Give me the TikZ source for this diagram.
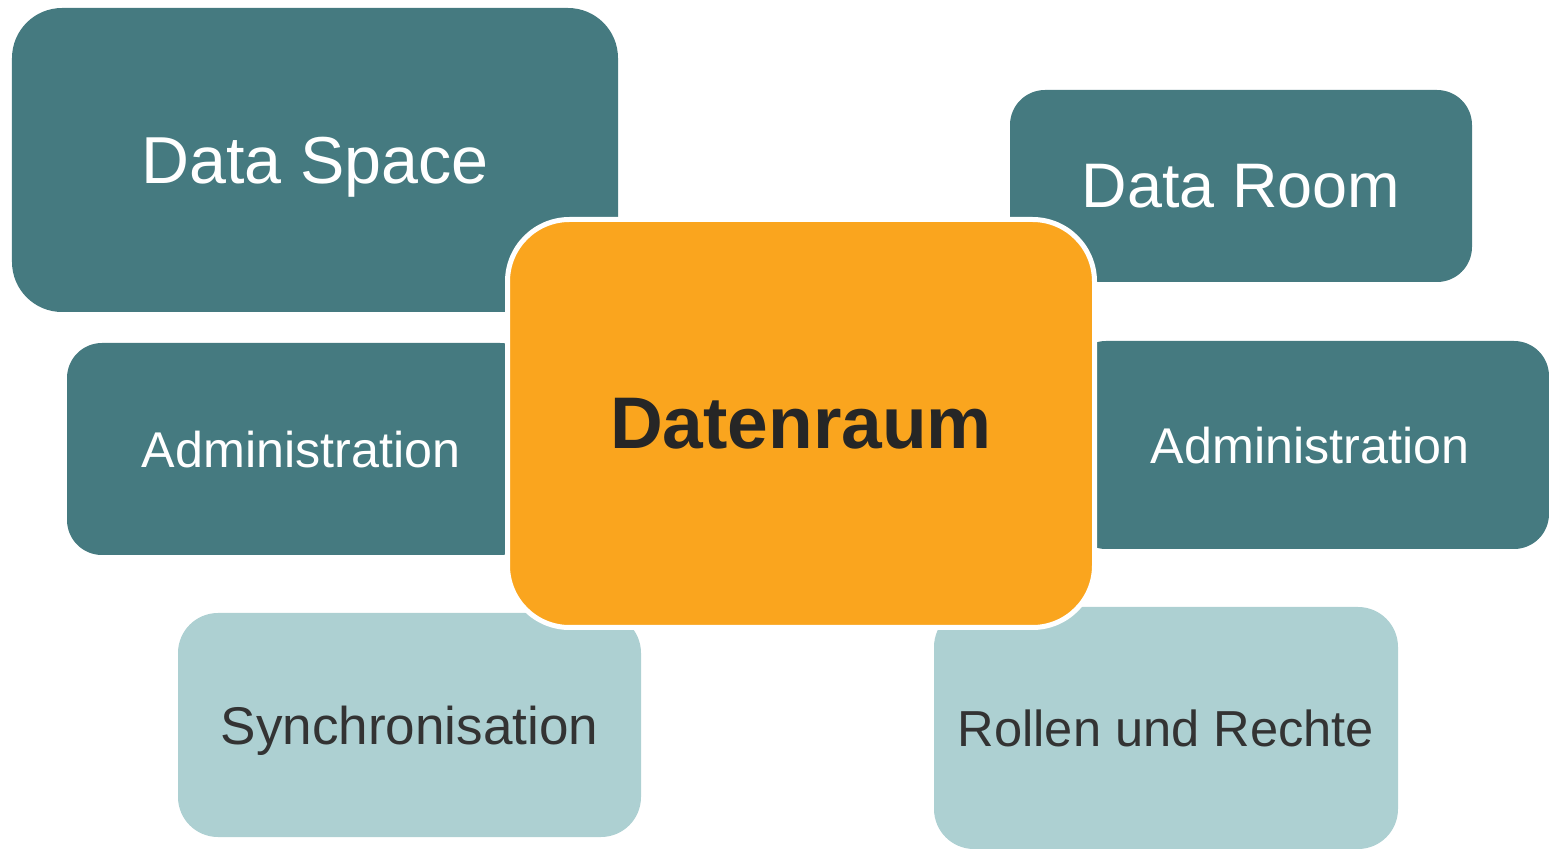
\documentclass[tikz,border=0pt]{standalone}
\usepackage{fontspec}
\setmainfont{Liberation Sans}

\definecolor{tealbox}{RGB}{69,122,128}
\definecolor{lightbox}{RGB}{173,208,210}
\definecolor{corefill}{RGB}{250,165,30}
\definecolor{darktext}{RGB}{51,51,51}
\definecolor{coretext}{RGB}{38,38,38}

\tikzset{
    topicbox/.style={rectangle, inner sep=0pt, outer sep=0pt, fill=tealbox,
        text=white, align=center, text depth=0pt},
    detailbox/.style={rectangle, inner sep=0pt, outer sep=0pt, fill=lightbox,
        text=darktext, align=center, text depth=0pt},
    corebox/.style={rectangle, inner sep=0pt, outer sep=0pt, fill=corefill,
        draw=white, line width=0.05cm, text=coretext, align=center,
        rounded corners=0.62cm, minimum width=5.87cm, minimum height=4.08cm}
}

\begin{document}
\begin{tikzpicture}
    % Page size of the picture, everything outside is cut off
    \clip (0, 0) rectangle (15.49, -8.49);

    % Dark boxes behind the centre box
    \node[topicbox, rounded corners=0.5cm, minimum width=6.06cm, minimum height=3.04cm]
        (space) at (3.15, -1.60) {\fontsize{18.9}{22}\selectfont Data Space};
    \node[topicbox, rounded corners=0.35cm, minimum width=4.62cm, minimum height=1.92cm]
        (room) at (12.41, -1.86) {\fontsize{17.9}{21}\selectfont Data Room};
    \node[topicbox, rounded corners=0.35cm, minimum width=4.68cm, minimum height=2.12cm]
        (adminL) at (3.01, -4.49) {\fontsize{14.3}{17}\selectfont Administration};
    \node[topicbox, rounded corners=0.35cm, minimum width=4.78cm, minimum height=2.08cm]
        (adminR) at (13.10, -4.45) {\fontsize{14.3}{17}\selectfont Administration};

    % Light boxes at the bottom
    \node[detailbox, rounded corners=0.4cm, minimum width=4.63cm, minimum height=2.24cm]
        (sync) at (4.095, -7.25) {\fontsize{15.1}{18}\selectfont Synchronisation};
    \node[detailbox, rounded corners=0.4cm, minimum width=4.64cm, minimum height=2.42cm]
        (roles) at (11.66, -7.28) {\fontsize{14.4}{17}\selectfont Rollen und Rechte};

    % The centre box goes on top of all others
    \node[corebox] (core) at (8.01, -4.235) {\fontsize{20.8}{24}\selectfont\bfseries Datenraum};

\end{tikzpicture}
\end{document}
